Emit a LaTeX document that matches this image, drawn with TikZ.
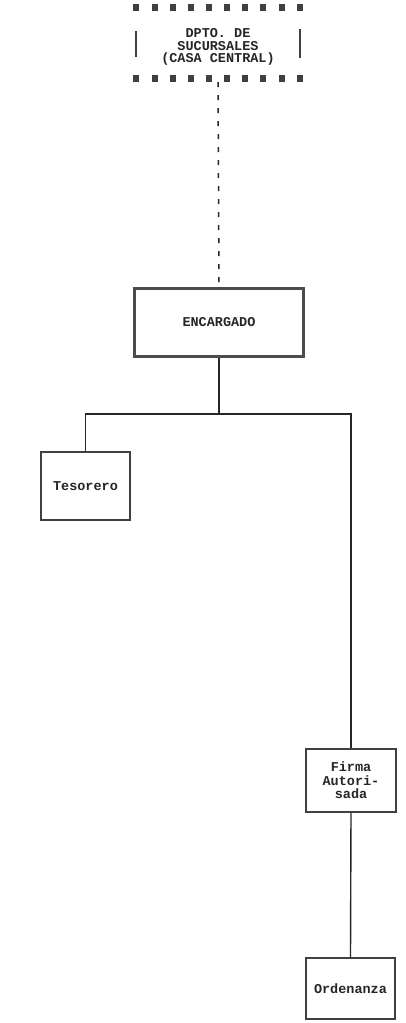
\documentclass[tikz,border=0pt]{standalone}
\usepackage{fontspec}
\setmonofont{Liberation Mono}
\begin{document}
\begin{tikzpicture}[x=1pt,y=-1pt,
  boxtext/.style={font=\ttfamily\bfseries\fontsize{13.5}{13.5}\selectfont, text=black!85, align=center, inner sep=0pt},
  orgbox/.style={draw=black!75, line width=2.2pt, rectangle, boxtext},
  mainbox/.style={draw=black!70, line width=3.6pt, rectangle, boxtext},
  dashmark/.style={fill=black!75},
  link/.style={draw=black!85, line width=1.4pt},
  dashlink/.style={draw=black!85, line width=1.5pt, dash pattern=on 5pt off 8pt}]
\useasboundingbox (0,0) rectangle (406,1023);
\fill[white] (0,0) rectangle (406,1023);
% top dashed box
\node[minimum width=166pt, minimum height=71pt, inner sep=0pt] (dpto) at (218,42.5) {};
\node[boxtext, font=\ttfamily\bfseries\fontsize{13.5}{12.5}\selectfont] (dptotext) at (218,47) {DPTO. DE\\SUCURSALES\\(CASA CENTRAL)};
\foreach \xx in {136,155,173,191,209,227,245,263,282,300}{
  \fill[dashmark] (\xx-3,4) rectangle (\xx+3,11);
  \fill[dashmark] (\xx-3,75) rectangle (\xx+3,82);
}
\draw[black!75, line width=2.6pt] (136,31) -- (136,57);
\draw[black!75, line width=2.6pt] (300,29) -- (300,58);
% boxes
\node[mainbox, minimum width=169pt, minimum height=68pt] (enc) at (219,322.5) {ENCARGADO};
\node[orgbox, minimum width=89pt, minimum height=68pt] (tes) at (85.5,486) {Tesorero};
\node[orgbox, minimum width=90pt, minimum height=63pt] (firma) at (351,780.5) {Firma\\Autori-\\sada};
\node[orgbox, minimum width=89pt, minimum height=61pt] (ord) at (350.5,988.5) {Ordenanza};
\coordinate (j) at (219,414);
% connectors
\draw[dashlink] ([yshift=-4pt]dpto.south) -- (enc.north);
\draw[link] (enc.south) -- (j);
\draw[link] (tes.north) |- (j) -| (firma.north);
\draw[link] (firma.south) -- (ord.north);
\end{tikzpicture}
\end{document}
